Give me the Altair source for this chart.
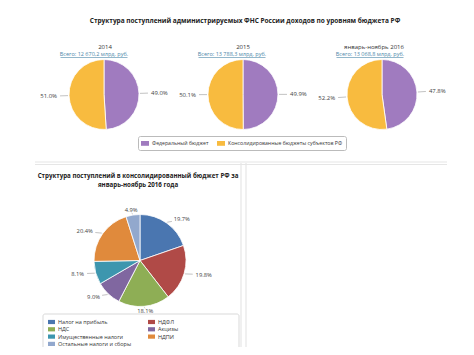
import altair as alt
import pandas as pd

OFF = 8
W, H = 458, 339
FONT = "Open Sans"

# ---- data -------------------------------------------------------------
top_title = "Структура поступлений администрируемых ФНС России доходов по уровням бюджета РФ"
top_years = ["2014", "2015", "январь-ноябрь 2016"]
top_totals = ["Всего: 12 670,2 млрд. руб.", "Всего: 13 788,3 млрд. руб.", "Всего: 13 068,8 млрд. руб."]
federal_pct = [49.0, 49.9, 47.8]
regional_pct = [51.0, 50.1, 52.2]
levels = ["Федеральный бюджет", "Консолидированные бюджеты субъектов РФ"]
level_colors = ["#a07bbf", "#f8bb3f"]

bottom_title = ["Структура поступлений в консолидированный бюджет РФ за", "январь-ноябрь 2016 года"]
taxes = ["Налог на прибыль", "НДФЛ", "НДС", "Акцизы", "Имущественные налоги", "НДПИ",
         "Остальные налоги и сборы"]
tax_pct = [19.7, 19.8, 18.1, 9.0, 8.1, 20.4, 4.9]
tax_colors = ["#4a76b0", "#b04a47", "#8eae55", "#8067a0", "#3d96ae", "#e08a3c", "#92a8cd"]

RECT = "M-1,-0.6H1V0.6H-1Z"
ONE = alt.Data(values=[{}])


def txt(t, x, y, size=6, bold=False, color="#333", align="center"):
    return alt.Chart(ONE).mark_text(
        text=t, fontSize=size, fontWeight="bold" if bold else "normal", color=color,
        align=align, baseline="middle", font=FONT
    ).encode(x=alt.value(x - OFF), y=alt.value(y - OFF))


def line(x1, y1, x2, y2, color="#e4e4e4", w=1.0):
    return alt.Chart(ONE).mark_rule(color=color, strokeWidth=w).encode(
        x=alt.value(x1 - OFF), y=alt.value(y1 - OFF), x2=alt.value(x2 - OFF), y2=alt.value(y2 - OFF))


def pie(df, cx, cy, r, gx, gy, cscale, legend, fs=6):
    cx, cy = cx - OFF, cy - OFF
    base = alt.Chart(df)
    arcs = base.mark_arc(outerRadius=r, stroke="white", strokeWidth=0.8).encode(
        theta=alt.Theta("value:Q", stack=True),
        color=alt.Color("name:N", scale=cscale, legend=legend),
        order=alt.Order("idx:Q"),
        x=alt.value(cx), y=alt.value(cy),
    )
    geo = base.transform_joinaggregate(total="sum(value)").transform_window(
        cum="sum(value)", sort=[alt.SortField("idx")], frame=[None, 0]
    ).transform_calculate(
        ang="2*PI*(datum.cum - datum.value/2)/datum.total"
    ).transform_calculate(
        s="sin(datum.ang)", c="cos(datum.ang)"
    ).transform_calculate(
        x1=f"{cx} + {r + 1}*datum.s", y1=f"{cy} - {r + 1}*datum.c",
        x2=f"{cx} + {r + gx - 3}*datum.s", y2=f"{cy} - {r + max(gy - 3, 2)}*datum.c",
        lx=f"{cx} + {r + gx}*datum.s", ly=f"{cy} - {r + gy}*datum.c",
        side="datum.s > 0.3 ? 'left' : (datum.s < -0.3 ? 'right' : 'center')",
        label="format(datum.value, '.1f') + '%'",
    )
    leaders = geo.mark_rule(color="#999", strokeWidth=0.6).encode(
        x=alt.X("x1:Q", scale=None), y=alt.Y("y1:Q", scale=None), x2="x2:Q", y2="y2:Q")
    out = [arcs, leaders]
    for a in ["left", "right", "center"]:
        out.append(geo.transform_filter(f"datum.side == '{a}'").mark_text(
            align=a, baseline="middle", fontSize=fs, color="#444", font=FONT
        ).encode(x=alt.X("lx:Q", scale=None), y=alt.Y("ly:Q", scale=None), text="label:N"))
    return out


layers = []

# frames
layers.append(line(35, 162, 447, 162, "#e6e6e6", 1.2))
layers.append(line(35, 164.5, 447, 164.5, "#e6e6e6", 1.2))
layers.append(line(241, 163, 241, 355, "#e6e6e6", 1.2))
layers.append(line(246, 163, 246, 355, "#e6e6e6", 1.2))
layers.append(alt.Chart(ONE).mark_rect(fillOpacity=0, stroke="#cfcfcf", strokeWidth=0.8, cornerRadius=2).encode(
    x=alt.value(43 - OFF), x2=alt.value(239 - OFF), y=alt.value(314 - OFF), y2=alt.value(351 - OFF)))

# top titles
layers.append(txt(top_title, 245, 21, size=6.5, bold=True, color="#222"))
top_cx = [104, 243, 382]
link_cx = [94, 232, 370]
year_cx = [105, 243, 374]
link_w = 67
top_scale = alt.Scale(domain=levels, range=level_colors)
for i in range(3):
    layers.append(txt(top_years[i], year_cx[i], 47, size=6, color="#333"))
    layers.append(txt(top_totals[i], link_cx[i], 54, size=5.5, color="#4a86a8"))
    layers.append(line(link_cx[i] - link_w / 2, 57.5, link_cx[i] + link_w / 2, 57.5, "#4a86a8", 0.6))
    df = pd.DataFrame({"name": levels, "value": [federal_pct[i], regional_pct[i]], "idx": [0, 1]})
    leg = None
    if i == 0:
        leg = alt.Legend(orient="none", legendX=138 - OFF, legendY=136 - OFF, direction="horizontal",
                         title=None, symbolType=RECT, symbolSize=64, symbolStrokeWidth=0,
                         labelFontSize=5.2, labelFont=FONT, labelColor="#333", labelOffset=3,
                         columnPadding=8, padding=3, strokeColor="#bbbbbb", cornerRadius=2)
    layers += pie(df, top_cx[i], 94.5, 35, 12, 12, top_scale, leg)

# bottom panel
layers.append(txt(bottom_title[0], 138, 176, size=6.2, bold=True, color="#222"))
layers.append(txt(bottom_title[1], 138, 185, size=6.2, bold=True, color="#222"))
tax_df = pd.DataFrame({"name": taxes, "value": tax_pct, "idx": list(range(len(taxes)))})
tax_scale = alt.Scale(domain=taxes, range=tax_colors)
tax_leg = alt.Legend(orient="none", legendX=48 - OFF, legendY=318.5 - OFF, direction="horizontal", columns=2,
                     title=None, symbolType=RECT, symbolSize=49, symbolStrokeWidth=0,
                     labelFontSize=5.5, labelFont=FONT, labelColor="#333", labelOffset=3,
                     columnPadding=16, rowPadding=0.3, padding=0)
layers += pie(tax_df, 140, 260.5, 46, 12, 5, tax_scale, tax_leg, fs=5.8)

chart = alt.layer(*layers).resolve_scale(color="independent", theta="independent").properties(
    width=W, height=H, autosize=alt.AutoSizeParams(type="none"), padding=0
).configure_view(stroke=None)

chart.save("out.html", embed_options={"renderer": "svg", "actions": False})
